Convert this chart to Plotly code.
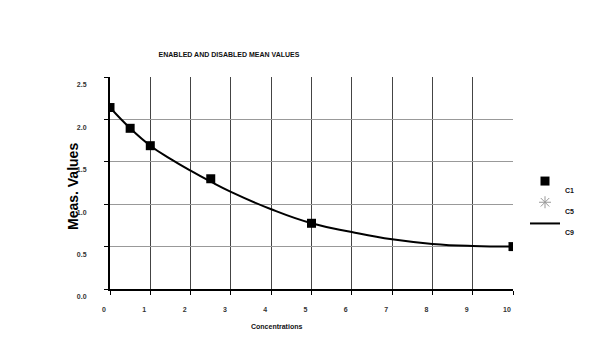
import plotly.graph_objects as go

# Measured points (C1)
c1_x = [0, 0.5, 1, 2.5, 5, 10]
c1_y = [2.14, 1.895, 1.69, 1.30, 0.775, 0.50]

# Disabled values (C5) - none visible in the plot
c5_x = [None]
c5_y = [None]

# Fitted curve (C9)
c9_x = [0, 0.5, 1, 1.5, 2, 2.5, 3, 4, 5, 6, 7, 8, 9, 10]
c9_y = [2.14, 1.895, 1.69, 1.535, 1.395, 1.265, 1.145, 0.94, 0.775, 0.672, 0.586, 0.532, 0.507, 0.50]

x_ticks = [0, 1, 2, 3, 4, 5, 6, 7, 8, 9, 10]
y_ticks = [0.0, 0.5, 1.0, 1.5, 2.0, 2.5]

W, H = 600, 357
L, R, T, B = 110, 87, 77, 68

fig = go.Figure()
fig.add_trace(go.Scatter(x=c1_x, y=c1_y, mode="markers", name="&nbsp;<br>C1",
                         marker=dict(symbol="square", size=9, color="black")))
fig.add_trace(go.Scatter(x=c5_x, y=c5_y, mode="markers", name="&nbsp;<br>C5",
                         marker=dict(symbol="asterisk-open", size=10, color="#999",
                                     line=dict(color="#999", width=1))))
fig.add_trace(go.Scatter(x=c9_x, y=c9_y, mode="lines", name="&nbsp;<br>C9",
                         line=dict(color="black", width=2, shape="spline", smoothing=1.3)))

tickfont = dict(family="Liberation Sans, Arial, sans-serif", size=7, color="#333", weight="bold")

fig.update_layout(
    width=W, height=H,
    margin=dict(l=L, r=R, t=T, b=B),
    paper_bgcolor="white", plot_bgcolor="white",
    font=dict(family="Liberation Sans, Arial, sans-serif", color="black"),
    title=dict(text="ENABLED AND DISABLED MEAN VALUES", x=229 / W, xanchor="center",
               y=1 - 54.5 / H, yanchor="middle", yref="container", xref="container",
               font=dict(size=7, color="#111", weight="bold")),
    xaxis=dict(range=[0, 10], tickvals=x_ticks, ticktext=[str(v) for v in x_ticks],
               showgrid=True, gridcolor="#444", gridwidth=1,
               showline=True, linecolor="black", linewidth=2,
               ticks="outside", ticklen=4, tickcolor="black",
               tickfont=tickfont, ticklabelshift=-6, ticklabelstandoff=9,
               zeroline=False),
    yaxis=dict(range=[0, 2.5], tickvals=y_ticks, ticktext=["%.1f" % v for v in y_ticks],
               showgrid=True, gridcolor="#999", gridwidth=1,
               showline=True, linecolor="black", linewidth=2,
               ticks="outside", ticklen=4, tickcolor="black",
               tickfont=tickfont, ticklabelshift=8, ticklabelstandoff=16,
               zeroline=False),
    showlegend=True,
    legend=dict(x=1 + (525 - 513) / 403, xanchor="left", y=(289 - 170) / 212, yanchor="top",
                font=dict(size=7, color="#111", weight="bold"), valign="top",
                itemwidth=30, bgcolor="rgba(0,0,0,0)", tracegroupgap=0),
    annotations=[
        dict(text="Meas. Values", textangle=-90, x=(73 - L) / 403, y=(289 - 187) / 212,
             xref="paper", yref="paper", showarrow=False, xanchor="center", yanchor="middle",
             font=dict(size=14, color="black", weight="bold")),
        dict(text="Concentrations", x=(276 - L) / 403, y=-(326.5 - 289) / 212,
             xref="paper", yref="paper", showarrow=False, xanchor="center", yanchor="middle",
             font=dict(size=7, color="#111", weight="bold")),
    ],
)

fig.write_html("out.html", config={"displayModeBar": False},
               post_script="document.body.style.margin='0';")
